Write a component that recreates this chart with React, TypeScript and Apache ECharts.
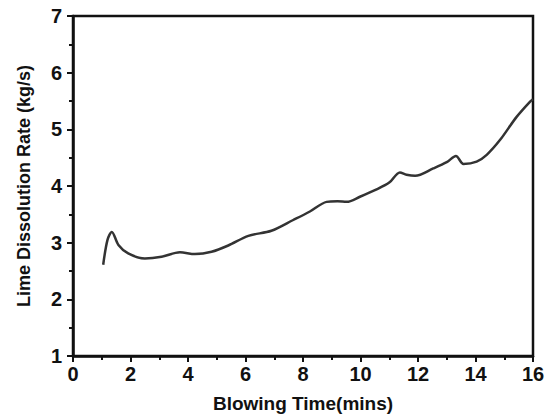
import React, { useEffect, useRef } from "react";
import * as echarts from "echarts";

const timeMins = [1.05, 1.2, 1.35, 1.58, 1.92, 2.5, 3.08, 3.72, 4.24, 4.82, 5.4, 6.1, 6.9, 7.66, 8.24, 8.82, 9.2, 9.52, 9.98, 10.56, 11.0, 11.37, 11.6, 11.9, 12.53, 13.0, 13.32, 13.58, 14.04, 14.39, 14.85, 15.43, 15.9, 16.0];
const dissolutionRate = [2.61, 3.05, 3.19, 2.96, 2.81, 2.72, 2.75, 2.83, 2.8, 2.84, 2.95, 3.12, 3.21, 3.4, 3.55, 3.72, 3.73, 3.72, 3.81, 3.94, 4.06, 4.24, 4.2, 4.18, 4.31, 4.42, 4.53, 4.39, 4.43, 4.55, 4.81, 5.22, 5.49, 5.53];

const xTitle = "Blowing Time(mins)";
const yTitle = "Lime Dissolution Rate (kg/s)";

export default function App() {
  const ref = useRef<HTMLDivElement>(null);
  useEffect(() => {
    if (!ref.current) return;
    const chart = echarts.init(ref.current, null, { renderer: "svg" });
    const font = "'Liberation Sans', Arial, sans-serif";
    const axisCommon = {
      axisLine: { show: true, onZero: false, lineStyle: { color: "#111", width: 2.5 } },
      axisTick: { show: true, inside: false, length: 6, lineStyle: { color: "#111", width: 2 } },
      minorTick: { show: true, splitNumber: 2, length: 4, lineStyle: { color: "#111", width: 2 } },
      splitLine: { show: false },
      axisLabel: { color: "#111", fontSize: 20, fontFamily: font, fontWeight: "bold" as const },
      nameTextStyle: { color: "#111", fontSize: 19, fontFamily: font, fontWeight: "bold" as const },
    };
    chart.setOption({
      animation: false,
      backgroundColor: "#fff",
      grid: {
        left: 73,
        top: 16,
        right: 22,
        bottom: 63,
        show: true,
        borderColor: "#111",
        borderWidth: 2.5,
        backgroundColor: "transparent",
      },
      xAxis: {
        type: "value",
        min: 0,
        max: 16,
        interval: 2,
        name: xTitle,
        nameLocation: "middle",
        nameGap: 38,
        ...axisCommon,
        axisLabel: { ...axisCommon.axisLabel, margin: 8 },
      },
      yAxis: {
        type: "value",
        min: 1,
        max: 7,
        interval: 1,
        name: yTitle,
        nameLocation: "middle",
        nameGap: 40,
        ...axisCommon,
        nameTextStyle: { ...axisCommon.nameTextStyle, fontSize: 18 },
        axisLabel: { ...axisCommon.axisLabel, margin: 11 },
      },
      series: [
        {
          type: "line",
          data: timeMins.map((t, i) => [t, dissolutionRate[i]]),
          smooth: 0.3,
          showSymbol: false,
          lineStyle: { color: "#333", width: 2.5 },
        },
      ],
    });
    return () => chart.dispose();
  }, []);
  return <div ref={ref} style={{ width: 555, height: 419, position: "absolute", left: 0, top: 0 }} />;
}
